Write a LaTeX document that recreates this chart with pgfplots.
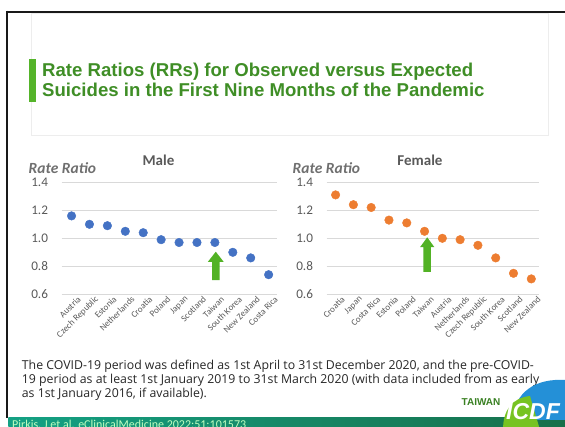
\documentclass[border=0pt]{standalone}
\usepackage{pgfplots}
\pgfplotsset{compat=1.18}
\usepackage{fontspec}
\setmainfont{Carlito}
\newfontfamily\titlefont{Liberation Sans}
\newfontfamily\notefont{Open Sans}

\definecolor{malecol}{HTML}{4472C4}
\definecolor{femalecol}{HTML}{ED7D31}
\definecolor{gridcol}{HTML}{D9D9D9}
\definecolor{labcol}{HTML}{595959}
\definecolor{axtitcol}{HTML}{6F6F6F}
\definecolor{headgreen}{HTML}{3F8E26}
\definecolor{accentgreen}{HTML}{55B42A}
\definecolor{arrowgreen}{HTML}{52B225}
\definecolor{barleft}{HTML}{14A184}
\definecolor{barright}{HTML}{17704A}
\definecolor{boxline}{HTML}{EDEDED}

\pgfplotsset{
  rrchart/.style={
    scale only axis,
    height=112pt,
    ymin=0.6, ymax=1.4,
    ytick={0.6,0.8,1.0,1.2,1.4},
    ymajorgrids,
    major grid style={draw=gridcol, line width=0.7pt},
    axis line style={draw=none},
    tick style={draw=none},
    xtick={0,...,11},
    clip=false,
    /pgf/number format/assume math mode=true,
    yticklabel={\pgfmathprintnumber[fixed,fixed zerofill,precision=1]{\tick}},
    yticklabel style={font=\fontsize{13.2}{14}\selectfont, text=labcol, anchor=east, inner sep=0pt, xshift=-13.5pt},
    xticklabel style={font=\fontsize{9}{10}\selectfont, text=labcol, rotate=45, anchor=east, inner sep=0pt, yshift=-8pt, xshift=3pt},
  }
}

\begin{document}
\begin{tikzpicture}[x=1pt,y=1pt]
\path[use as bounding box] (0,0) rectangle (565,-427);
\coordinate (maleSW) at (61.7,-294.3);
\coordinate (femaleSW) at (326.7,-294.3);
\begin{scope}
\clip (0,0) rectangle (565,-427);

% slide frame
\draw[line width=2.2pt, black!90] (6,-11.7) -- (566,-11.7);
\draw[line width=2.2pt, black!90] (7.2,-10.6) -- (7.2,-418);

% heading box
\draw[boxline, line width=0.6pt] (31.5,-13) rectangle (548,-135);
\fill[accentgreen] (29,-59) rectangle (35.5,-102.5);
\node[anchor=base west, inner sep=0pt, text=headgreen, font=\titlefont\bfseries\fontsize{18.6}{20}\selectfont] at (42,-76.5) {Rate Ratios (RRs) for Observed versus Expected};
\node[anchor=base west, inner sep=0pt, text=headgreen, font=\titlefont\bfseries\fontsize{18.6}{20}\selectfont] at (42,-96.5) {Suicides in the First Nine Months of the Pandemic};

% Male panel
\node[text=labcol, font=\bfseries\fontsize{15}{16}\selectfont] at (158.5,-160) {Male};
\node[anchor=west, inner sep=0pt, text=axtitcol, font=\bfseries\itshape\fontsize{15.5}{16}\selectfont] at (28.5,-168.5) {Rate Ratio};
\begin{axis}[rrchart,
  at={(maleSW)}, anchor=south west,
  width=215pt, xmin=-0.55, xmax=11.45,
  xticklabels={Austria,Czech Republic,Estonia,Netherlands,Croatia,Poland,Japan,Scotland,Taiwan,South Korea,New Zealand,Costa Rica},
]
\addplot[only marks, mark=*, mark size=4.3pt, mark options={fill=malecol, draw=malecol}] coordinates {
  (0,1.16) (1,1.10) (2,1.09) (3,1.05) (4,1.04) (5,0.99)
  (6,0.97) (7,0.97) (8,0.97) (9,0.90) (10,0.86) (11,0.74)
};
\fill[arrowgreen] (axis cs:8.05,0.904) -- (axis cs:8.49,0.832) -- (axis cs:8.26,0.832) -- (axis cs:8.26,0.702)
  -- (axis cs:7.84,0.702) -- (axis cs:7.84,0.832) -- (axis cs:7.61,0.832) -- cycle;
\end{axis}

% Female panel
\node[text=labcol, font=\bfseries\fontsize{15}{16}\selectfont] at (420,-160) {Female};
\node[anchor=west, inner sep=0pt, text=axtitcol, font=\bfseries\itshape\fontsize{15.5}{16}\selectfont] at (292.5,-168.5) {Rate Ratio};
\begin{axis}[rrchart,
  at={(femaleSW)}, anchor=south west,
  width=212.6pt, xmin=-0.5, xmax=11.45,
  xticklabels={Croatia,Japan,Costa Rica,Estonia,Poland,Taiwan,Austria,Netherlands,Czech Republic,South Korea,Scotland,New Zealand},
]
\addplot[only marks, mark=*, mark size=4.3pt, mark options={fill=femalecol, draw=femalecol}] coordinates {
  (0,1.31) (1,1.24) (2,1.22) (3,1.13) (4,1.11) (5,1.05)
  (6,1.00) (7,0.99) (8,0.95) (9,0.86) (10,0.75) (11,0.71)
};
\fill[arrowgreen] (axis cs:5.15,1.007) -- (axis cs:5.55,0.937) -- (axis cs:5.36,0.937) -- (axis cs:5.36,0.761)
  -- (axis cs:4.94,0.761) -- (axis cs:4.94,0.937) -- (axis cs:4.75,0.937) -- cycle;
\end{axis}

% footnote
\begin{scope}[every node/.style={anchor=base west, inner sep=0pt, text=black!85, font=\notefont\fontsize{12.3}{14}\selectfont}]
\node at (21.7,-369.5) {The COVID-19 period was defined as 1st April to 31st December 2020, and the pre-COVID-};
\node at (21.7,-383.5) {19 period as at least 1st January 2019 to 31st March 2020 (with data included from as early};
\node at (21.7,-397.5) {as 1st January 2016, if available).};
\end{scope}

% bottom band
\shade[left color=barleft, right color=barright] (8.3,-417.7) rectangle (566,-430);
\node[anchor=base west, inner sep=0pt, text=green!25!white, font=\fontsize{12}{12}\selectfont] at (12,-428.3) {Pirkis, J et al. eClinicalMedicine 2022;51:101573};

% logo
\node[anchor=base west, inner sep=0pt, text=headgreen!90!black, font=\titlefont\bfseries\fontsize{10}{10}\selectfont] at (461.5,-406) {TAIWAN};
\fill[cyan!70!blue!90] (512,-420) .. controls (515,-392) and (535,-378) .. (566,-380) -- (566,-420) -- cycle;
\fill[accentgreen!80!yellow] (503,-430) .. controls (503,-410) and (512,-398) .. (530,-396) -- (540,-430) -- cycle;
\node[anchor=base west, inner sep=0pt, text=white, font=\titlefont\bfseries\itshape\fontsize{23}{24}\selectfont] at (506,-420) {ICDF};
\end{scope}
\end{tikzpicture}
\end{document}
